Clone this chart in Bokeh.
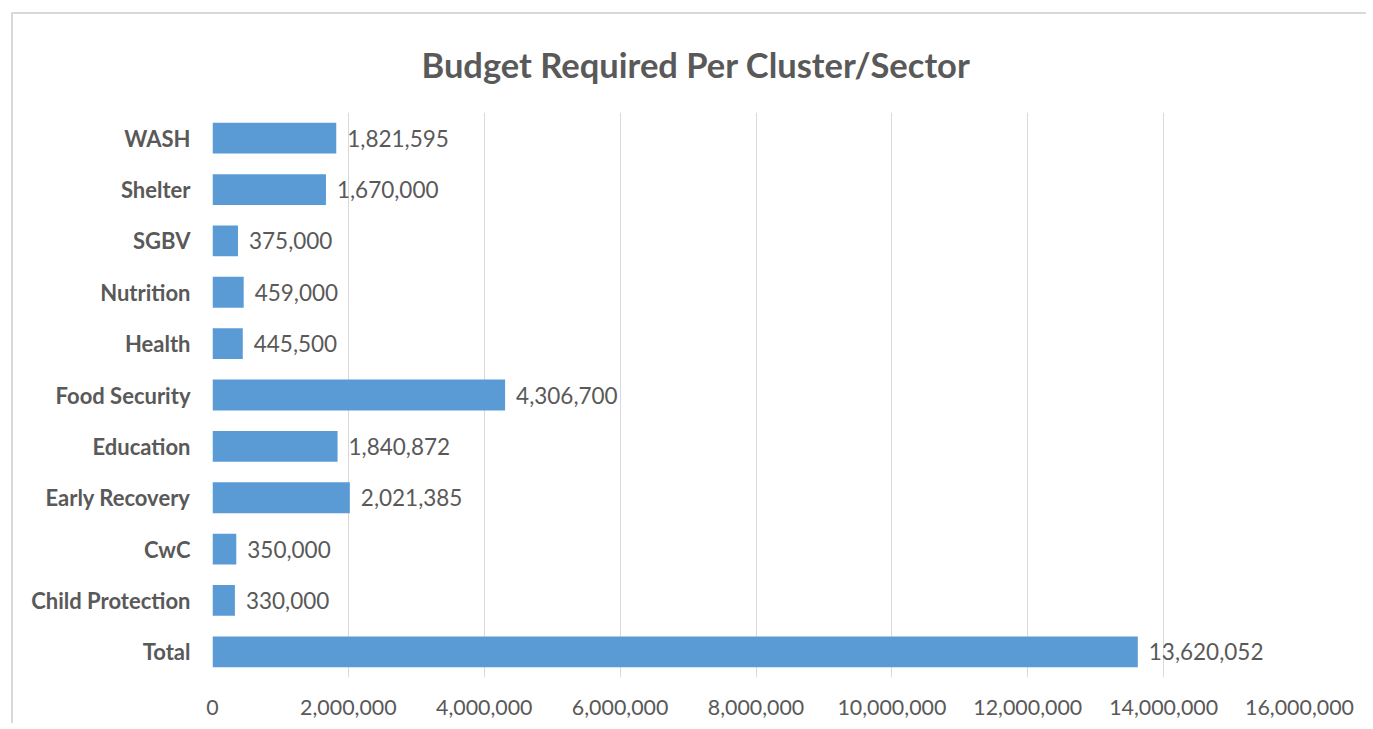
from bokeh.plotting import figure
from bokeh.models import ColumnDataSource, FactorRange, Range1d, FixedTicker, NumeralTickFormatter, Title
from bokeh.embed import file_html
from bokeh.resources import INLINE
from bokeh.core.properties import value

categories = ["WASH", "Shelter", "SGBV", "Nutrition", "Health", "Food Security",
              "Education", "Early Recovery", "CwC", "Child Protection", "Total"]
budgets = [1821595, 1670000, 375000, 459000, 445500, 4306700,
           1840872, 2021385, 350000, 330000, 13620052]
x_ticks = [0, 2000000, 4000000, 6000000, 8000000, 10000000, 12000000, 14000000, 16000000]

FONT = "Lato"
GRAY = "#595959"
BLUE = "#5B9BD5"

src = ColumnDataSource(dict(cat=categories, val=budgets,
                            lab=[f"{v:,}" for v in budgets]))

p = figure(width=1355, height=711, output_backend="svg", toolbar_location=None,
           y_range=FactorRange(*reversed(categories)), x_range=Range1d(0, 16000000),
           min_border_left=199, min_border_right=69, min_border_top=98, min_border_bottom=48,
           outline_line_color=None, background_fill_color="white", border_fill_color="white")
p.styles = {"border-left": "2px solid #D9D9D9", "border-top": "2px solid #D9D9D9",
            "margin-left": "11px", "margin-top": "12px"}

p.hbar(y="cat", right="val", left=0, height=0.6, source=src, fill_color=BLUE,
       line_color=None)
p.text(x="val", y="cat", text="lab", source=src, x_offset=11, text_baseline="middle",
       text_align="left", text_color=GRAY, text_font=value(FONT), text_font_size="22.5px")

p.title = Title(text="Budget Required Per Cluster/Sector", align="left", offset=209,
                text_font=FONT, text_font_size="34.5px", text_color=GRAY, text_font_style="bold",
                standoff=55)

p.xaxis.ticker = FixedTicker(ticks=x_ticks)
p.xaxis.formatter = NumeralTickFormatter(format="0,0")
p.xaxis.axis_line_color = None
p.xaxis.major_tick_line_color = None
p.xaxis.minor_tick_line_color = None
p.xaxis.major_label_text_font = FONT
p.xaxis.major_label_text_font_size = "21.4px"
p.xaxis.major_label_text_color = GRAY
p.xaxis.major_label_standoff = 16

p.yaxis.axis_line_color = None
p.yaxis.major_tick_line_color = None
p.yaxis.minor_tick_line_color = None
p.yaxis.major_label_text_font = FONT
p.yaxis.major_label_text_font_size = "22px"
p.yaxis.major_label_text_font_style = "bold"
p.yaxis.major_label_text_color = GRAY
p.yaxis.major_label_standoff = 16

p.xgrid.grid_line_color = "#D9D9D9"
p.xgrid.grid_line_width = 1
p.ygrid.grid_line_color = None

open("out.html", "w").write(file_html(p, INLINE))
